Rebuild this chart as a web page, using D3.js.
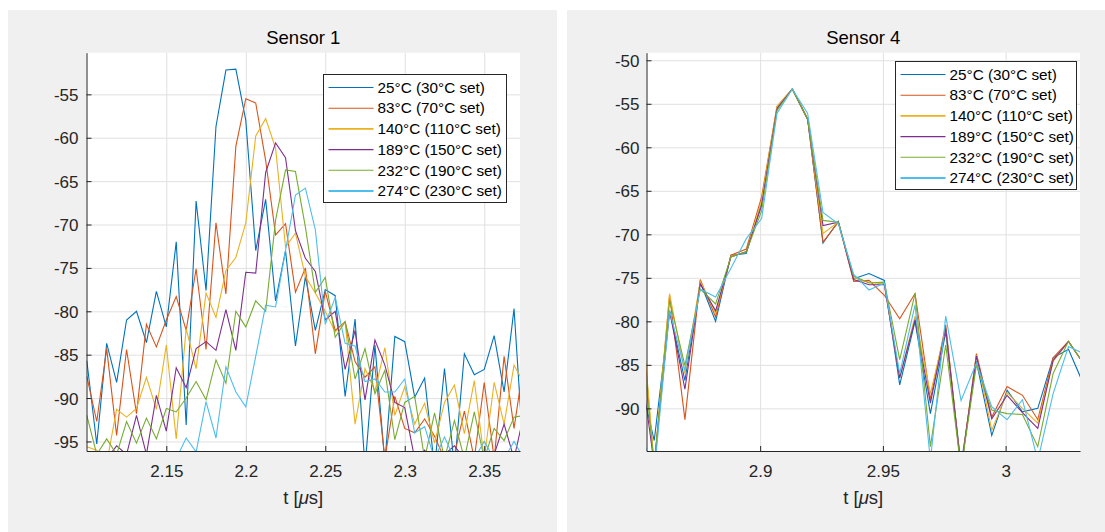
<!DOCTYPE html>
<html>
<head>
<meta charset="utf-8">
<script src="https://cdn.jsdelivr.net/npm/d3@7"></script>
<style>
  html, body { margin: 0; padding: 0; background: #ffffff; }
  svg { display: block; }
</style>
</head>
<body>
<svg id="chart" width="1105" height="532"></svg>
<script>
// ---------------- DATA ----------------
const seriesLabels = ["25°C (30°C set)", "83°C (70°C set)", "140°C (110°C set)",
                      "189°C (150°C set)", "232°C (190°C set)", "274°C (230°C set)"];
const seriesColors = ["#0072BD", "#D95319", "#EDB120", "#7E2F8E", "#77AC30", "#4DBEEE"];

// Sensor 1 sample times [µs]
const tSensor1 = [2.10000, 2.10625, 2.11250, 2.11875, 2.12500, 2.13125, 2.13750, 2.14375, 2.15000,
  2.15625, 2.16250, 2.16875, 2.17500, 2.18125, 2.18750, 2.19375, 2.20000, 2.20625, 2.21250, 2.21875,
  2.22500, 2.23125, 2.23750, 2.24375, 2.25000, 2.25625, 2.26250, 2.26875, 2.27500, 2.28125, 2.28750,
  2.29375, 2.30000, 2.30625, 2.31250, 2.31875, 2.32500, 2.33125, 2.33750, 2.34375, 2.35000, 2.35625,
  2.36250, 2.36875, 2.37500];
const s1_25C = [-85.7, -95.3, -83.7, -88.2, -81.0, -80.0, -83.6, -77.7, -81.8, -72.0, -93.1, -67.3,
  -77.6, -58.7, -52.2, -52.1, -58.0, -73.0, -67.1, -78.8, -73.0, -84.0, -76.0, -82.2, -77.5, -78.2,
  -89.8, -80.9, -98.0, -83.9, -97.5, -82.9, -83.5, -89.9, -87.7, -98.0, -86.6, -98.0, -84.9, -87.3,
  -86.7, -82.8, -89.3, -79.7, -97.5];
const s1_83C = [-87.5, -92.7, -84.3, -94.3, -84.4, -91.8, -81.5, -84.1, -81.0, -78.3, -82.2, -75.1,
  -84.4, -69.8, -78.0, -61.0, -55.5, -56.0, -62.6, -71.2, -69.9, -77.8, -75.0, -84.9, -77.7, -82.2,
  -81.2, -85.8, -87.6, -86.4, -97.0, -89.8, -93.5, -94.0, -92.4, -94.4, -97.0, -96.5, -91.5, -97.0,
  -88.2, -97.0, -85.2, -93.5, -85.8];
const s1_140C = [-95.6, -96.0, -97.5, -91.3, -92.2, -91.2, -87.6, -91.3, -83.9, -94.7, -82.0, -86.6,
  -77.9, -80.7, -75.3, -73.8, -69.8, -59.8, -57.8, -61.2, -72.6, -71.0, -76.0, -77.9, -80.0, -82.4,
  -81.2, -93.0, -86.6, -89.2, -84.2, -92.0, -88.7, -93.0, -90.6, -95.2, -90.5, -88.5, -94.1, -88.0,
  -97.0, -88.2, -93.0, -86.2, -88.3];
const s1_189C = [-99.0, -98.0, -97.0, -95.5, -96.5, -92.0, -96.5, -89.7, -93.8, -86.5, -88.8, -84.3,
  -83.5, -84.5, -79.8, -84.5, -75.5, -75.6, -64.0, -60.6, -62.3, -70.7, -73.9, -75.4, -81.0, -80.0,
  -86.7, -82.2, -90.2, -83.3, -86.2, -90.5, -91.1, -97.0, -96.0, -97.5, -96.5, -95.5, -97.0, -96.5,
  -97.0, -96.5, -93.0, -97.0, -91.8];
const s1_232C = [-92.0, -96.5, -94.7, -96.5, -92.7, -95.2, -92.3, -94.7, -91.2, -91.6, -90.0, -88.1,
  -90.2, -85.6, -88.3, -80.0, -81.8, -78.8, -80.0, -69.5, -63.7, -63.9, -70.3, -77.8, -76.1, -83.0,
  -81.2, -87.8, -84.3, -89.5, -86.8, -94.8, -90.5, -89.8, -97.0, -91.7, -97.0, -92.6, -97.0, -91.6,
  -97.0, -93.5, -94.9, -92.2, -92.0];
const s1_274C = [-99.0, -99.0, -99.0, -99.0, -99.0, -99.0, -99.0, -99.0, -98.0, -97.0, -94.6, -96.2,
  -90.4, -94.6, -86.4, -89.3, -91.0, -85.2, -79.3, -79.5, -73.0, -66.6, -65.8, -70.6, -81.5, -78.4,
  -83.7, -84.0, -88.1, -87.8, -89.3, -89.3, -87.8, -94.0, -93.3, -97.0, -94.5, -97.0, -97.0, -97.0,
  -95.0, -97.0, -97.0, -95.0, -97.0];

// Sensor 4 sample times [µs]
const tSensor4 = [2.85060, 2.85685, 2.86310, 2.86935, 2.87560, 2.88185, 2.88810, 2.89435, 2.90060,
  2.90685, 2.91310, 2.91935, 2.92560, 2.93185, 2.93810, 2.94435, 2.95060, 2.95685, 2.96310, 2.96935,
  2.97560, 2.98185, 2.98810, 2.99435, 3.00060, 3.00685, 3.01310, 3.01935, 3.02560, 3.03185];
const s4_25C = [-86.1, -93.7, -78.8, -86.8, -75.5, -80.0, -72.4, -72.2, -66.3, -55.5, -53.3, -56.7,
  -71.0, -68.5, -75.1, -74.5, -75.3, -87.3, -80.0, -90.6, -81.2, -96.5, -84.6, -93.1, -87.9, -90.4,
  -90.0, -84.2, -83.2, -87.3];
const s4_83C = [-75.5, -97.0, -77.0, -91.3, -75.2, -79.5, -72.4, -71.7, -65.7, -55.3, -53.3, -56.8,
  -70.9, -68.6, -75.4, -75.3, -77.0, -79.7, -76.8, -89.0, -80.4, -97.0, -83.7, -91.0, -87.5, -88.5,
  -91.3, -84.2, -82.3, -84.9];
const s4_140C = [-75.0, -96.5, -76.8, -86.0, -75.4, -79.1, -72.5, -72.0, -66.1, -55.3, -53.3, -56.7,
  -69.9, -68.6, -75.0, -75.5, -75.7, -86.5, -79.4, -88.3, -80.8, -97.0, -83.9, -92.5, -88.2, -90.0,
  -91.7, -84.6, -82.3, -84.9];
const s4_189C = [-83.3, -96.5, -78.8, -87.8, -75.7, -78.8, -72.6, -72.0, -66.7, -55.6, -53.3, -56.8,
  -69.0, -68.6, -75.2, -75.8, -75.8, -86.5, -79.8, -89.4, -80.8, -97.0, -84.0, -91.2, -88.5, -90.5,
  -92.3, -84.5, -82.3, -84.9];
const s4_232C = [-79.0, -96.5, -77.6, -85.1, -76.3, -78.0, -72.6, -72.0, -67.3, -55.8, -53.3, -56.8,
  -68.4, -68.6, -74.8, -75.6, -75.5, -84.4, -76.8, -94.4, -82.7, -97.0, -85.0, -90.2, -90.6, -90.7,
  -94.4, -86.0, -82.3, -84.9];
const s4_274C = [-92.0, -97.5, -78.8, -85.6, -76.3, -77.2, -73.9, -70.5, -68.2, -56.1, -53.3, -56.1,
  -67.5, -68.8, -74.6, -76.4, -75.6, -86.0, -78.1, -96.0, -79.4, -89.1, -84.8, -89.8, -91.3, -89.0,
  -96.0, -88.3, -82.9, -83.7];

const xTicks1 = [2.15, 2.2, 2.25, 2.3, 2.35];
const yTicks1 = [-95, -90, -85, -80, -75, -70, -65, -60, -55];
const xTicks4 = [2.9, 2.95, 3];
const yTicks4 = [-90, -85, -80, -75, -70, -65, -60, -55, -50];

// ---------------- DRAWING ----------------
const FONT = "'Liberation Sans', Arial, Helvetica, sans-serif";
const AXC = "#262626";
const GRIDC = "#e0e0e0";
const svg = d3.select("#chart");

// figure panel backgrounds
svg.append("rect").attr("x", 8).attr("y", 10).attr("width", 549).attr("height", 522).attr("fill", "#f0f0f0");
svg.append("rect").attr("x", 567).attr("y", 10).attr("width", 538).attr("height", 522).attr("fill", "#f0f0f0");

function panel(cfg) {
  const x = d3.scaleLinear().domain(cfg.xDomain).range([cfg.left, cfg.right]);
  const y = d3.scaleLinear().domain(cfg.yDomain).range([cfg.bottom, cfg.top]);
  const g = svg.append("g");
  const w = cfg.right - cfg.left, h = cfg.bottom - cfg.top;

  g.append("rect").attr("x", cfg.left).attr("y", cfg.top).attr("width", w).attr("height", h).attr("fill", "#fff");

  // grid
  const gx = g.append("g").attr("transform", `translate(0,${cfg.bottom})`)
    .call(d3.axisBottom(x).tickValues(cfg.xTicks).tickSize(-h).tickFormat(""));
  const gy = g.append("g").attr("transform", `translate(${cfg.left},0)`)
    .call(d3.axisLeft(y).tickValues(cfg.yTicks).tickSize(-w).tickFormat(""));
  [gx, gy].forEach(s => { s.select(".domain").remove(); s.selectAll("line").attr("stroke", GRIDC).attr("stroke-width", 1); });

  // lines
  const clipId = "clip" + cfg.id;
  svg.append("defs").append("clipPath").attr("id", clipId)
    .append("rect").attr("x", cfg.left).attr("y", cfg.top).attr("width", w).attr("height", h);
  const line = d3.line().x((d, i) => x(cfg.t[i])).y(d => y(d));
  const lg = g.append("g").attr("clip-path", `url(#${clipId})`);
  cfg.series.forEach((s, k) => {
    lg.append("path").attr("d", line(s)).attr("fill", "none")
      .attr("stroke", seriesColors[k]).attr("stroke-width", 1.1).attr("stroke-linejoin", "miter");
  });

  // axes
  const ax = g.append("g").attr("transform", `translate(0,${cfg.bottom})`)
    .call(d3.axisBottom(x).tickValues(cfg.xTicks).tickSize(-5).tickSizeOuter(0).tickPadding(20).tickFormat(d => String(d)));
  const ay = g.append("g").attr("transform", `translate(${cfg.left},0)`)
    .call(d3.axisLeft(y).tickValues(cfg.yTicks).tickSize(-5).tickSizeOuter(0).tickPadding(cfg.yPad).tickFormat(d => String(d)));
  [ax, ay].forEach(s => {
    s.attr("font-family", FONT).attr("font-size", 17);
    s.select(".domain").attr("stroke", AXC).attr("stroke-width", 1);
    s.selectAll("line").attr("stroke", AXC);
    s.selectAll("text").attr("fill", AXC);
  });
  ax.selectAll("text").attr("dy", null).attr("y", 26).attr("dominant-baseline", "auto");
  ay.selectAll("text").attr("dy", "0.35em");

  // title & xlabel
  const cx = (cfg.left + cfg.right) / 2;
  g.append("text").attr("x", cx).attr("y", 44).attr("text-anchor", "middle")
    .attr("font-family", FONT).attr("font-size", 18.5).attr("fill", "#000").text(cfg.title);
  const xl = g.append("text").attr("x", cx).attr("y", 504).attr("text-anchor", "middle")
    .attr("font-family", FONT).attr("font-size", 18.5).attr("fill", AXC);
  xl.append("tspan").text("t [");
  xl.append("tspan").attr("font-style", "italic").text("\u03bc");
  xl.append("tspan").text("s]");

  // legend
  const L = cfg.legend;
  const leg = g.append("g");
  leg.append("rect").attr("x", L.x).attr("y", L.y).attr("width", L.w).attr("height", L.h)
    .attr("fill", "#fff").attr("stroke", AXC).attr("stroke-width", 1);
  seriesLabels.forEach((lab, k) => {
    const ry = L.y + 13 + k * 20.7;
    leg.append("line").attr("x1", L.x + 5).attr("x2", L.x + 50).attr("y1", ry).attr("y2", ry)
      .attr("stroke", seriesColors[k]).attr("stroke-width", (k === 2 || k === 5) ? 1.8 : 1.1);
    leg.append("text").attr("x", L.x + 54).attr("y", ry + 5.2).attr("font-family", FONT)
      .attr("font-size", 15.3).attr("fill", "#000").text(lab);
  });
}

panel({
  id: 1, title: "Sensor 1", left: 86.5, right: 520, top: 52.7, bottom: 451,
  xDomain: [2.0998, 2.3725], yDomain: [-96.1, -50.2],
  xTicks: xTicks1, yTicks: yTicks1, yPad: 8,
  t: tSensor1, series: [s1_25C, s1_83C, s1_140C, s1_189C, s1_232C, s1_274C],
  legend: { x: 323.5, y: 74.5, w: 183, h: 128 }
});
panel({
  id: 4, title: "Sensor 4", left: 646.5, right: 1080, top: 52.7, bottom: 451,
  xDomain: [2.8537, 3.0303], yDomain: [-94.9, -49.13],
  xTicks: xTicks4, yTicks: yTicks4, yPad: 7,
  t: tSensor4, series: [s4_25C, s4_83C, s4_140C, s4_189C, s4_232C, s4_274C],
  legend: { x: 895.5, y: 61.5, w: 181, h: 128 }
});
</script>
</body>
</html>
